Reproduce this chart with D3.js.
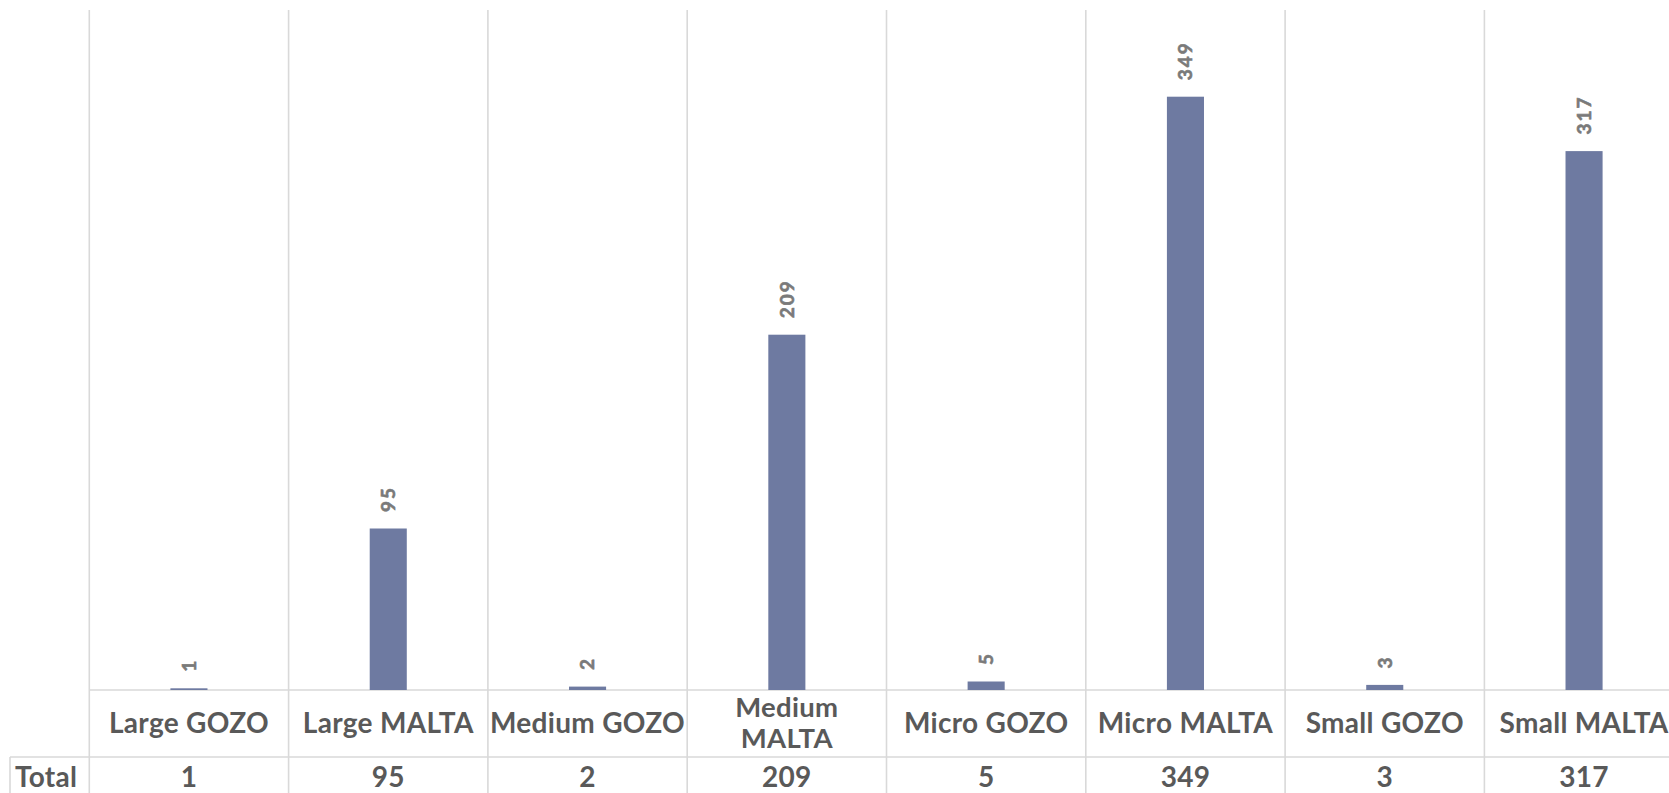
<!DOCTYPE html>
<html><head><meta charset="utf-8">
<script src="https://cdn.jsdelivr.net/npm/d3@7"></script>
<style>
html,body{margin:0;padding:0;background:#fff;overflow:hidden;}
svg{display:block;}
text{font-family:Lato, "Open Sans", sans-serif;font-weight:bold;}
</style></head>
<body>
<svg id="chart" width="1669" height="793"></svg>
<script>
const categories = ["Large GOZO","Large MALTA","Medium GOZO","Medium MALTA","Micro GOZO","Micro MALTA","Small GOZO","Small MALTA"];
const values = [1,95,2,209,5,349,3,317];
const rowLabel = "Total";
const yDomain = [0,400];

(function(){
const W = 1669, H = 793;
const leftX = 89.3, bandW = 199.3;
const plotTop = 10, base = 690, rowLine = 757;
const gridColor = "#d9d9d9";
const barColor = "#6e7aa1";

const svg = d3.select("#chart");
const x = d3.scaleBand().domain(categories).range([leftX, leftX + bandW*categories.length]).padding(0);
const y = d3.scaleLinear().domain(yDomain).range([base, plotTop]);
const barW = x.bandwidth()*0.186;

const bounds = categories.map(c => x(c)).concat([x.range()[1]]);
svg.append("g").selectAll("line").data(bounds).join("line")
  .attr("x1", d=>d).attr("x2", d=>d).attr("y1", plotTop).attr("y2", H)
  .attr("stroke", gridColor).attr("stroke-width", 1.6);
svg.append("line").attr("x1", leftX).attr("x2", W).attr("y1", base).attr("y2", base)
  .attr("stroke", gridColor).attr("stroke-width", 1.6);
svg.append("line").attr("x1", 10).attr("x2", W).attr("y1", rowLine).attr("y2", rowLine)
  .attr("stroke", gridColor).attr("stroke-width", 1.6);
svg.append("line").attr("x1", 10).attr("x2", 10).attr("y1", rowLine).attr("y2", H)
  .attr("stroke", gridColor).attr("stroke-width", 1.6);

svg.append("g").selectAll("rect").data(values).join("rect")
  .attr("x", (d,i)=> x(categories[i]) + x.bandwidth()/2 - barW/2)
  .attr("width", barW)
  .attr("y", d=> y(d))
  .attr("height", d=> y(0)-y(d))
  .attr("fill", barColor);

svg.append("g").selectAll("text").data(values).join("text")
  .attr("transform", (d,i)=> `translate(${x(categories[i]) + x.bandwidth()/2},${y(d)-16.5}) rotate(-90)`)
  .attr("text-anchor","start").attr("dy","0.36em")
  .attr("font-size", 19).attr("fill", "#7a7a7a").attr("stroke", "#7a7a7a").attr("stroke-width", 0.6)
  .attr("letter-spacing", 2)
  .text(d=>d);

const catG = svg.append("g");
categories.forEach((c,i)=>{
  const cx = x(c) + x.bandwidth()/2;
  const t = catG.append("text").attr("x", cx).attr("text-anchor","middle")
    .attr("font-size", 28).attr("letter-spacing", 0.3).attr("fill","#595959").text(c);
  const w = t.node().getComputedTextLength();
  if (w > x.bandwidth() - 2) {
    const words = c.split(" ");
    t.attr("y", 717).attr("font-size", 27.5).text(words[0]);
    catG.append("text").attr("x", cx).attr("y", 748).attr("text-anchor","middle")
      .attr("font-size", 27.5).attr("letter-spacing", 0.3).attr("fill","#595959")
      .text(words.slice(1).join(" "));
  } else {
    t.attr("y", 733);
  }
});

svg.append("text").attr("x", 15).attr("y", 787).attr("font-size", 28).attr("letter-spacing", 0.3).attr("fill","#595959").text(rowLabel);
svg.append("g").selectAll("text").data(values).join("text")
  .attr("x", (d,i)=> x(categories[i]) + x.bandwidth()/2).attr("y", 787)
  .attr("text-anchor","middle").attr("font-size", 28).attr("letter-spacing", 0.3).attr("fill","#595959")
  .text(d=>d);
})();
</script>
</body></html>
